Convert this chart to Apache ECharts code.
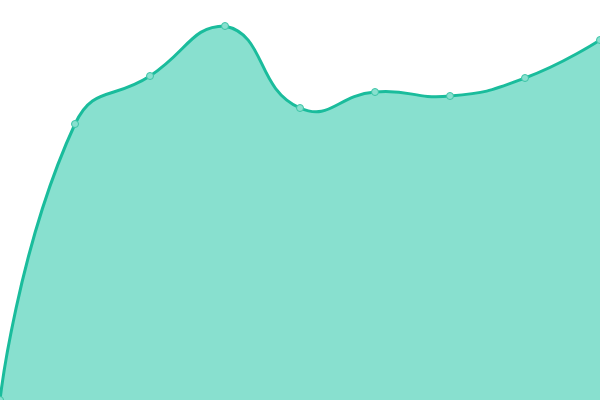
<!DOCTYPE html>
<html>
<head>
    <meta charset="utf-8">
    <title>Area</title>
    <style>
        * { margin: 0; padding: 0; }
        #chart { width: 600px; height: 400px; }
    </style>
</head>
<body>
<div id="chart"></div>
<script src="https://cdn.jsdelivr.net/npm/echarts@6/dist/echarts.min.js"></script>
<script>
    // values (y axis 0..100)
    const categories = ['1', '2', '3', '4', '5', '6', '7', '8', '9'];
    const values = [0, 69, 81, 93.5, 73, 77, 76, 80.5, 90];

    const SMOOTH = 0.5;

    // bezier path through the points, control points limited to the bbox of all points
    function smoothPath(pts, smooth) {
        const xs = pts.map(p => p[0]), ys = pts.map(p => p[1]);
        const min = [Math.min(...xs), Math.min(...ys)];
        const max = [Math.max(...xs), Math.max(...ys)];
        const clamp = c => [
            Math.max(min[0], Math.min(max[0], c[0])),
            Math.max(min[1], Math.min(max[1], c[1]))
        ];
        const dist = (a, b) => Math.hypot(a[0] - b[0], a[1] - b[1]);
        let d = 'M' + pts[0][0] + ' ' + pts[0][1];
        let cp0 = pts[0].slice();
        for (let i = 1; i < pts.length; i++) {
            const p = pts[i], prev = pts[i - 1], next = pts[i + 1];
            let cp1, v = null, ratio = 0.5;
            if (!next) {
                cp1 = p.slice();
            } else {
                v = [next[0] - prev[0], next[1] - prev[1]];
                const l0 = dist(p, prev), l1 = dist(p, next);
                ratio = l1 / (l0 + l1);
                cp1 = [p[0] - v[0] * smooth * (1 - ratio), p[1] - v[1] * smooth * (1 - ratio)];
            }
            cp0 = clamp(cp0);
            cp1 = clamp(cp1);
            d += ' C' + cp0[0] + ' ' + cp0[1] + ' ' + cp1[0] + ' ' + cp1[1] + ' ' + p[0] + ' ' + p[1];
            if (v) {
                cp0 = [p[0] + v[0] * smooth * ratio, p[1] + v[1] * smooth * ratio];
            }
        }
        return d;
    }

    function renderCurve(params, api) {
        if (params.dataIndex !== 0) return;
        const pts = values.map((v, i) => api.coord([i, v]));
        const base = api.coord([0, 0])[1];
        const line = smoothPath(pts, SMOOTH);
        const last = pts[pts.length - 1];
        const area = line + ' L' + last[0] + ' ' + base + ' L' + pts[0][0] + ' ' + base + ' Z';
        return {
            type: 'group',
            children: [
                { type: 'path', shape: { pathData: area }, style: { fill: '#88e0cf' } },
                { type: 'path', shape: { pathData: line }, style: { fill: 'none', stroke: '#1abc9c', lineWidth: 3 } }
            ]
        };
    }

    const chart = echarts.init(document.getElementById('chart'));
    chart.setOption({
        animation: false,
        grid: { left: 0, right: 0, top: 0, bottom: 0 },
        xAxis: {
            type: 'category',
            data: categories,
            boundaryGap: false,
            show: false
        },
        yAxis: {
            type: 'value',
            min: 0,
            max: 100,
            show: false
        },
        series: [
            {
                type: 'custom',
                data: [0],
                z: 1,
                silent: true,
                renderItem: renderCurve
            },
            {
                type: 'line',
                data: values,
                z: 3,
                symbol: 'circle',
                symbolSize: 7,
                showSymbol: true,
                lineStyle: { opacity: 0 },
                itemStyle: { color: '#88e0cf', borderColor: '#3cc4a6', borderWidth: 1 }
            }
        ]
    });
</script>
</body>
</html>
